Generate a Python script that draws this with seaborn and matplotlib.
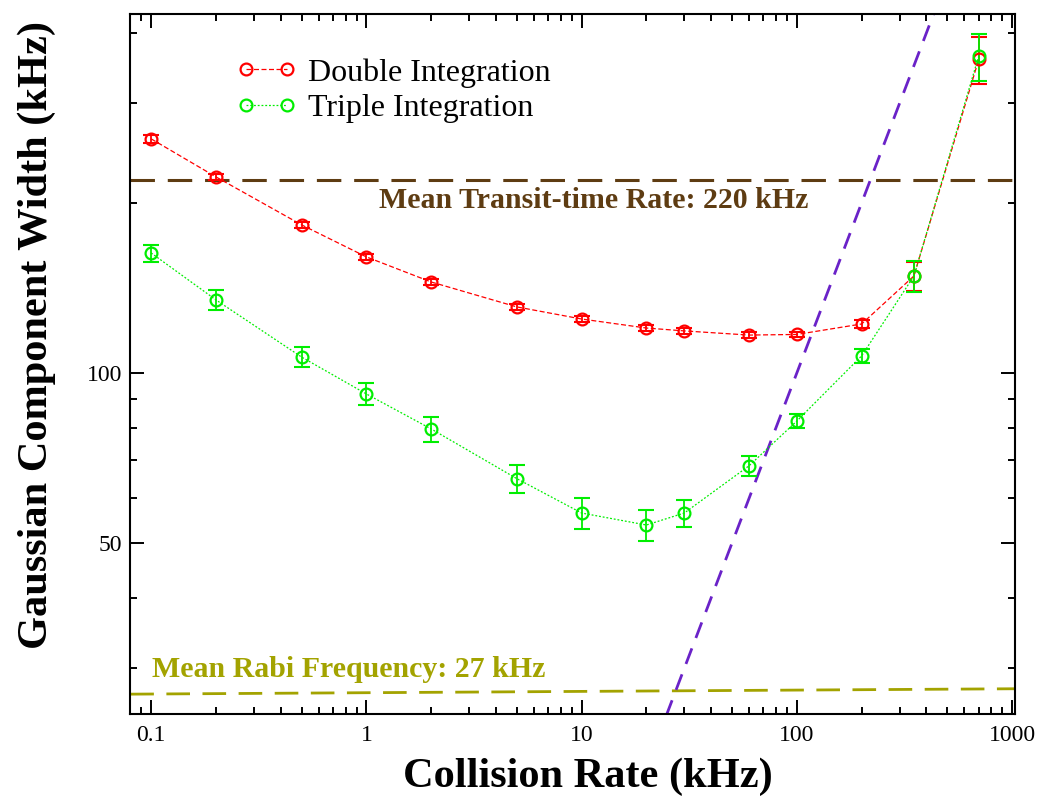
import numpy as np
import pandas as pd
import matplotlib
matplotlib.use("Agg")
import matplotlib.pyplot as plt
from matplotlib.ticker import FixedLocator, NullFormatter, FixedFormatter
import seaborn as sns

# Collision rate (kHz)
collision_rate = [0.1, 0.2, 0.5, 1, 2, 5, 10, 20, 30, 60, 100, 200, 350, 700]

# Gaussian component widths (kHz) and uncertainties
double_width = [259.7, 222.4, 182.9, 160.5, 144.9, 130.9, 124.6, 120.1, 118.7, 116.7, 117.0, 122.1, 148.5, 359.0]
double_err = [4.0, 3.0, 2.5, 2.0, 2.0, 1.6, 1.5, 1.5, 1.3, 1.3, 1.3, 2.2, 9.0, 34.0]

triple_width = [163.1, 134.7, 106.7, 91.8, 79.6, 65.0, 56.5, 53.8, 56.5, 68.5, 82.2, 107.2, 148.5, 364.0]
triple_err = [5.6, 5.3, 4.4, 4.2, 4.1, 3.8, 3.6, 3.4, 3.1, 2.8, 2.4, 3.1, 9.4, 35.0]

# Reference levels
transit_rate = 220.0
rabi_x = [0.08, 1030]
rabi_level = [27.0, 27.6]
diag_x = [20.0, 600.0]  # width equal to collision rate

sns.set_style("ticks")
plt.rcParams["font.family"] = ["Liberation Serif", "DejaVu Serif"]
plt.rcParams["text.color"] = "black"
plt.rcParams["axes.labelcolor"] = "black"
plt.rcParams["xtick.color"] = "black"
plt.rcParams["ytick.color"] = "black"

fig = plt.figure(figsize=(10.42, 7.96), dpi=100)
ax = fig.add_axes([0.1248, 0.103, 0.8493, 0.8794])
ax.set_xscale("log")
ax.set_yscale("log")
ax.set_xlim(0.0798, 1032)
ax.set_ylim(24.9, 432)

df = pd.DataFrame({
    "rate": collision_rate,
    "double": double_width,
    "triple": triple_width,
})

red = "#ff0000"
green = "#00ee00"
brown = "#5e3c12"
olive = "#a3a300"
purple = "#6a22c8"

# Reference lines
ax.axhline(transit_rate, color=brown, lw=2.2, dashes=(8, 4.2), zorder=1)
ax.plot(rabi_x, rabi_level, color=olive, lw=2.0, dashes=(8.5, 4.5), zorder=1)
ax.plot(diag_x, diag_x, color=purple, lw=2.0, dashes=(6, 4), zorder=1)

# Error bars
ax.errorbar(df["rate"], df["double"], yerr=double_err, fmt="none", ecolor=red,
            elinewidth=1.3, capsize=5.8, capthick=1.5, zorder=3)
ax.errorbar(df["rate"], df["triple"], yerr=triple_err, fmt="none", ecolor=green,
            elinewidth=1.3, capsize=5.8, capthick=1.5, zorder=3)

# Data series
sns.lineplot(data=df, x="rate", y="double", ax=ax, color=red, lw=0.9,
             linestyle=(0, (4, 2)), marker="o", markersize=8.5,
             markerfacecolor="none", markeredgecolor=red, markeredgewidth=1.6,
             label="Double Integration", zorder=4)
sns.lineplot(data=df, x="rate", y="triple", ax=ax, color=green, lw=0.9,
             linestyle=(0, (1.5, 1.5)), marker="o", markersize=8.5,
             markerfacecolor="none", markeredgecolor=green, markeredgewidth=1.6,
             label="Triple Integration", zorder=4)

# Annotations
ax.text(0.524, 0.733, "Mean Transit-time Rate: 220 kHz", color=brown,
        fontsize=21.5, fontweight="bold", ha="center", va="center",
        transform=ax.transAxes)
ax.text(0.025, 0.064, "Mean Rabi Frequency: 27 kHz", color=olive,
        fontsize=21.5, fontweight="bold", ha="left", va="center",
        transform=ax.transAxes)

# Axes styling
ax.set_xlabel("Collision Rate (kHz)", fontsize=30.5, fontweight="bold", color="black")
ax.set_ylabel("Gaussian Component Width (kHz)", fontsize=30.5, fontweight="bold",
              color="black")
ax.xaxis.set_label_coords(0.5175, -0.062)
ax.yaxis.set_label_coords(-0.084, 0.541)

x_major = [0.1, 1, 10, 100, 1000]
x_minor = [m * d for d in [0.01, 0.1, 1, 10, 100] for m in range(2, 10)]
x_minor = [v for v in x_minor if 0.0798 < v < 1032]
ax.xaxis.set_major_locator(FixedLocator(x_major))
ax.xaxis.set_major_formatter(FixedFormatter(["0.1", "1", "10", "100", "1000"]))
ax.xaxis.set_minor_locator(FixedLocator(x_minor))
ax.xaxis.set_minor_formatter(NullFormatter())

y_major = [50, 100]
y_minor = [30, 40, 60, 70, 80, 90, 200, 300, 400]
ax.yaxis.set_major_locator(FixedLocator(y_major))
ax.yaxis.set_major_formatter(FixedFormatter(["50", "100"]))
ax.yaxis.set_minor_locator(FixedLocator(y_minor))
ax.yaxis.set_minor_formatter(NullFormatter())

ax.tick_params(which="both", direction="in", top=True, right=True, width=1.4,
               colors="black", labelcolor="black", labelsize=17)
ax.tick_params(which="major", length=10)
ax.tick_params(axis="x", which="major", pad=8)
ax.tick_params(axis="y", which="major", pad=5.5)
ax.tick_params(which="minor", length=5)
for s in ax.spines.values():
    s.set_linewidth(1.5)
    s.set_color("black")

leg = ax.legend(loc="upper left", bbox_to_anchor=(0.095, 0.969), frameon=False,
                fontsize=23, numpoints=2, handlelength=1.88, handletextpad=0.36,
                labelspacing=0.18, borderpad=0.2, labelcolor="black")

fig.savefig("out.png", dpi=100)
